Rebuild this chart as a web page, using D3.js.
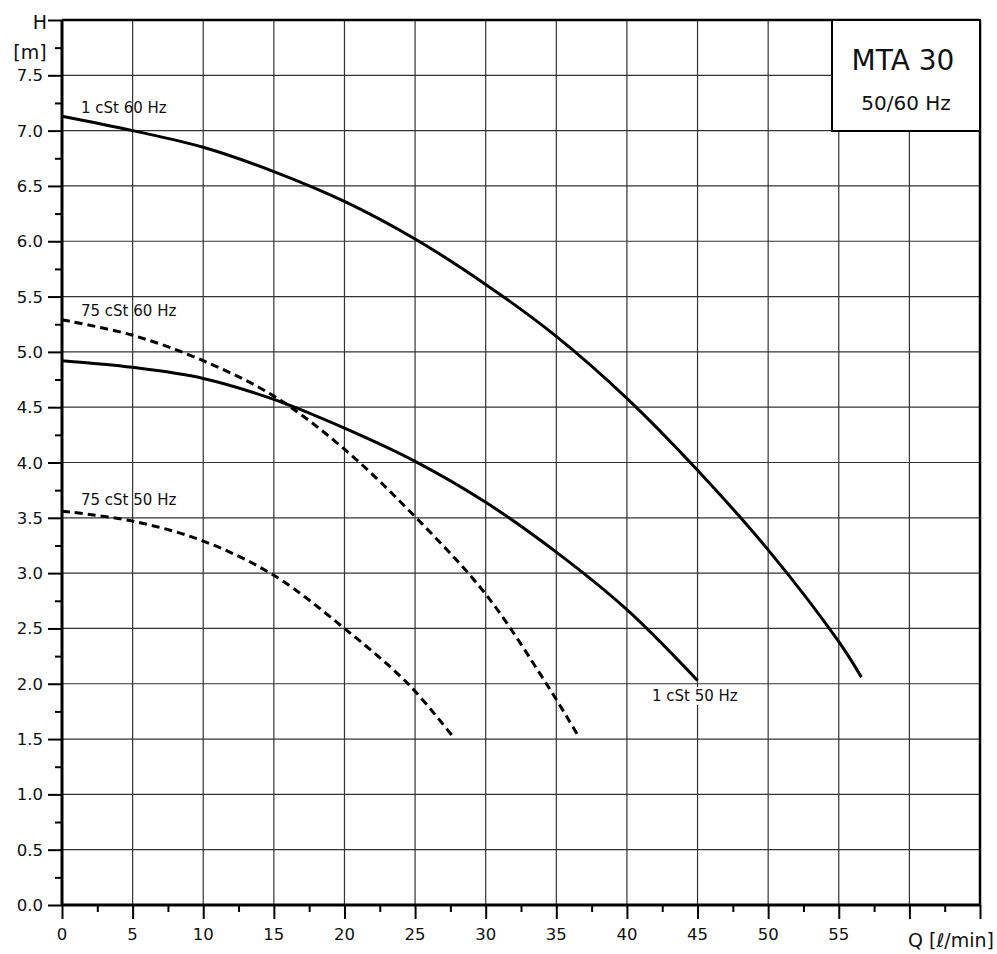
<!DOCTYPE html>
<html>
<head>
<meta charset="utf-8">
<script src="https://cdn.jsdelivr.net/npm/d3@7"></script>
<style>
  body { margin: 0; background: #fff; }
  svg text { font-family: "DejaVu Sans", "Noto Sans", sans-serif; fill: #111; }
</style>
</head>
<body>
<div id="chart"></div>
<script>
// pump curves: Q [l/min] vs H [m]
const q60_1 = [0, 5, 10, 15, 20, 25, 30, 35, 40, 45, 50, 55, 56.6]
const h60_1 = [7.13, 7.0, 6.85, 6.63, 6.36, 6.02, 5.61, 5.14, 4.58, 3.93, 3.21, 2.38, 2.06]
const q50_1 = [0, 5, 10, 15, 20, 25, 30, 35, 40, 45]
const h50_1 = [4.92, 4.86, 4.76, 4.57, 4.31, 4.01, 3.64, 3.19, 2.67, 2.03]
const q60_75 = [0, 5, 10, 15, 20, 25, 30, 34.3, 36.5]
const h60_75 = [5.29, 5.15, 4.92, 4.6, 4.12, 3.51, 2.81, 2.0, 1.54]
const q50_75 = [0, 5, 10, 15, 20, 24.5, 27.75]
const h50_75 = [3.56, 3.47, 3.29, 2.98, 2.5, 2.0, 1.51]

const xTicks = [0, 5, 10, 15, 20, 25, 30, 35, 40, 45, 50, 55]
const yTicks = [0, 0.5, 1, 1.5, 2, 2.5, 3, 3.5, 4, 4.5, 5, 5.5, 6, 6.5, 7, 7.5]

const width = 997, height = 954
const svg = d3.select('#chart').append('svg')
    .attr('width', width)
    .attr('height', height)

const x = d3.scaleLinear().domain([0, 65]).range([62, 980])
const y = d3.scaleLinear().domain([0, 8]).range([905, 20])

// grid
svg.append('g').selectAll('line')
    .data(d3.range(5, 65, 5))
    .enter().append('line')
    .attr('x1', d => x(d)).attr('x2', d => x(d))
    .attr('y1', y(0)).attr('y2', y(8))
    .attr('stroke', '#333').attr('stroke-width', 1.2)
svg.append('g').selectAll('line')
    .data(d3.range(0.5, 8, 0.5))
    .enter().append('line')
    .attr('x1', x(0)).attr('x2', x(65))
    .attr('y1', d => y(d)).attr('y2', d => y(d))
    .attr('stroke', '#333').attr('stroke-width', 1.2)

// axes
const yMajor = d3.axisLeft(y).tickValues(d3.range(0, 8.01, 0.5)).tickSize(14).tickFormat('')
const yMinor = d3.axisLeft(y).tickValues(d3.range(0.25, 8, 0.5)).tickSize(7).tickFormat('')
const xMajor = d3.axisBottom(x).tickValues(d3.range(0, 65.01, 5)).tickSize(14).tickFormat('')
const xMinor = d3.axisBottom(x).tickValues(d3.range(2.5, 65, 5)).tickSize(7).tickFormat('')

;[[yMajor, 'y'], [yMinor, 'y'], [xMajor, 'x'], [xMinor, 'x']].forEach(([ax, k]) => {
    const g = svg.append('g')
        .attr('transform', k === 'y' ? `translate(${x(0)},0)` : `translate(0,${y(0)})`)
        .call(ax)
    g.select('.domain').remove()
    g.selectAll('line').attr('stroke', '#000').attr('stroke-width', 2)
})

svg.append('g').selectAll('text')
    .data(yTicks)
    .enter().append('text')
    .attr('x', 43).attr('y', d => y(d) + 6)
    .attr('text-anchor', 'end')
    .style('font-size', '16.5px')
    .text(d => d.toFixed(1))

svg.append('g').selectAll('text')
    .data(xTicks)
    .enter().append('text')
    .attr('x', d => x(d)).attr('y', 940)
    .attr('text-anchor', 'middle')
    .style('font-size', '16.5px')
    .text(d => d)

// frame
svg.append('line').attr('x1', x(0)).attr('x2', x(0)).attr('y1', y(0)).attr('y2', y(8))
    .attr('stroke', '#000').attr('stroke-width', 3)
svg.append('line').attr('x1', x(0)).attr('x2', x(65)).attr('y1', y(0)).attr('y2', y(0))
    .attr('stroke', '#000').attr('stroke-width', 3)
svg.append('line').attr('x1', x(0)).attr('x2', x(65)).attr('y1', y(8)).attr('y2', y(8))
    .attr('stroke', '#000').attr('stroke-width', 2.5)
svg.append('line').attr('x1', x(65)).attr('x2', x(65)).attr('y1', y(0)).attr('y2', y(8))
    .attr('stroke', '#000').attr('stroke-width', 2.5)

// axis titles
svg.append('text').attr('x', 40).attr('y', 29).attr('text-anchor', 'middle')
    .style('font-size', '19px').text('H')
svg.append('text').attr('x', 30).attr('y', 59).attr('text-anchor', 'middle')
    .style('font-size', '19px').text('[m]')
svg.append('text').attr('x', 994).attr('y', 947).attr('text-anchor', 'end')
    .style('font-size', '19px').text('Q [ℓ/min]')

// curves
const line = d3.line().x(d => x(d[0])).y(d => y(d[1])).curve(d3.curveCatmullRom.alpha(0.5))
const curves = [
    [q60_1, h60_1, false],
    [q50_1, h50_1, false],
    [q60_75, h60_75, true],
    [q50_75, h50_75, true]
]
curves.forEach(([qs, hs, dashed]) => {
    svg.append('path')
        .datum(qs.map((q, i) => [q, hs[i]]))
        .attr('d', line)
        .attr('fill', 'none')
        .attr('stroke', '#000')
        .attr('stroke-width', 3)
        .attr('stroke-dasharray', dashed ? '8,5' : null)
})

// curve labels
const labels = [
    ['1 cSt 60 Hz', 81, 113],
    ['75 cSt 60 Hz', 81, 316],
    ['75 cSt 50 Hz', 81, 505]
]
svg.append('g').selectAll('text')
    .data(labels)
    .enter().append('text')
    .attr('x', d => d[1]).attr('y', d => d[2])
    .style('font-size', '15px')
    .text(d => d[0])

const labG = svg.append('g')
const bgRect = labG.append('rect').attr('fill', '#fff')
const lab50 = labG.append('text').attr('x', 652).attr('y', 701)
    .style('font-size', '15px').text('1 cSt 50 Hz')
const bb = lab50.node().getBBox()
bgRect.attr('x', bb.x - 1).attr('y', bb.y).attr('width', bb.width + 2).attr('height', bb.height)

// title box
svg.append('rect')
    .attr('x', 832).attr('y', 20).attr('width', 148).attr('height', 111)
    .attr('fill', '#fff').attr('stroke', '#000').attr('stroke-width', 2)
svg.append('text').attr('x', 903).attr('y', 70).attr('text-anchor', 'middle')
    .style('font-size', '28px').text('MTA 30')
svg.append('text').attr('x', 906).attr('y', 110).attr('text-anchor', 'middle')
    .style('font-size', '20px').text('50/60 Hz')
</script>
</body>
</html>
